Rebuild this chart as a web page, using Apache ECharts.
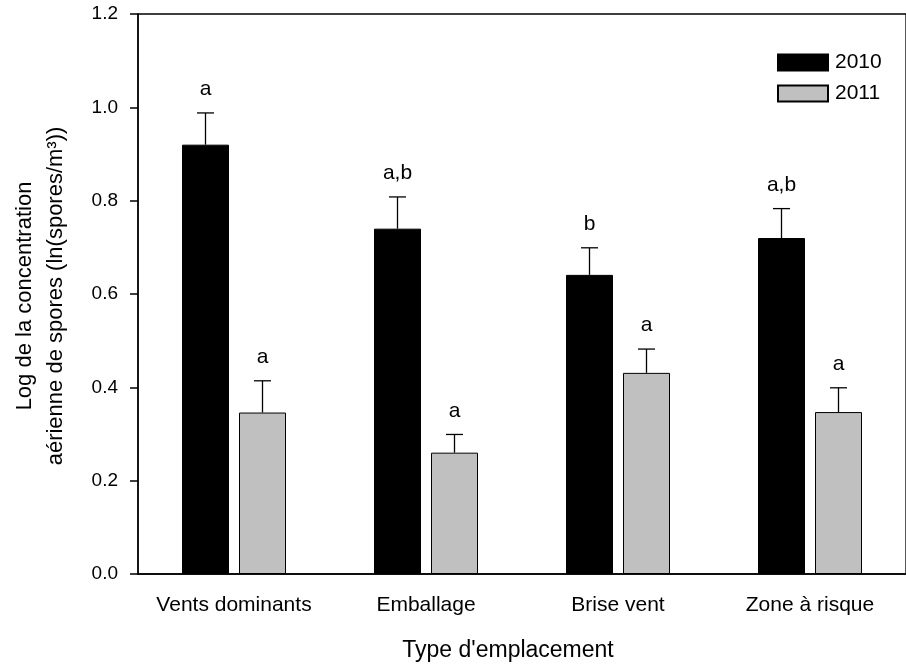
<!DOCTYPE html>
<html>
<head>
<meta charset="utf-8">
<script src="https://cdn.jsdelivr.net/npm/echarts@6/dist/echarts.min.js"></script>
<style>
  html, body { margin: 0; padding: 0; background: #fff; }
  #chart { width: 906px; height: 667px; }
</style>
</head>
<body>
<div id="chart"></div>
<script>
const categories = ['Vents dominants', 'Emballage', 'Brise vent', 'Zone à risque'];
const yTicks = [0, 0.2, 0.4, 0.6, 0.8, 1.0, 1.2];

const mean2010 = [0.92, 0.74, 0.641, 0.72];
const err2010 = [0.068, 0.068, 0.058, 0.063];
const letters2010 = ['a', 'a,b', 'b', 'a,b'];

const mean2011 = [0.346, 0.26, 0.431, 0.347];
const err2011 = [0.068, 0.039, 0.051, 0.052];
const letters2011 = ['a', 'a', 'a', 'a'];

const FONT = "'Liberation Sans', Arial, sans-serif";
const BAR_W = 47;
const BAR_GAP = 10;

const chart = echarts.init(document.getElementById('chart'), null, { renderer: 'canvas' });

// error bar (upper only) + significance letter
const errSeries = (name, means, errs, letters, side) => ({
    name: name + '-err',
    type: 'custom',
    z: 5,
    data: means.map((m, i) => [i, m, errs[i]]),
    renderItem: (params, api) => {
        const idx = api.value(0);
        const top = api.coord([idx, api.value(1) + api.value(2)]);
        const base = api.coord([idx, api.value(1)]);
        const x = base[0] + side * (BAR_W + BAR_GAP) / 2;
        return {
            type: 'group',
            children: [
                { type: 'line', shape: { x1: x, y1: base[1], x2: x, y2: top[1] }, style: { stroke: '#000', lineWidth: 1.3 } },
                { type: 'line', shape: { x1: x - 8.5, y1: top[1], x2: x + 8.5, y2: top[1] }, style: { stroke: '#000', lineWidth: 1.3 } },
                {
                    type: 'text',
                    x: x, y: top[1] - 13,
                    style: {
                        text: letters[idx], fill: '#000', font: '21px ' + FONT,
                        align: 'center', verticalAlign: 'bottom'
                    }
                }
            ]
        };
    }
});

const option = {
    animation: false,
    backgroundColor: '#fff',
    textStyle: { fontFamily: FONT },
    grid: {
        left: 138, top: 14, width: 777, height: 560,
        show: true, borderColor: '#000', borderWidth: 1.3, backgroundColor: 'transparent'
    },
    legend: {
        data: ['2010', '2011'],
        orient: 'vertical',
        left: 772, top: 47,
        icon: 'rect',
        itemWidth: 50, itemHeight: 16, itemGap: 10,
        textStyle: { fontSize: 21, color: '#000', fontFamily: FONT, padding: [0, 0, 0, 2] }
    },
    xAxis: {
        type: 'category',
        data: categories,
        axisLine: { lineStyle: { color: '#000', width: 1.5 } },
        axisTick: { alignWithLabel: true, interval: 0, length: 7, lineStyle: { color: '#000', width: 1.5 } },
        axisLabel: { color: '#000', fontSize: 21, margin: 21, fontFamily: FONT, interval: 0, hideOverlap: false }
    },
    yAxis: {
        type: 'value',
        min: yTicks[0], max: yTicks[yTicks.length - 1], interval: 0.2,
        axisLine: { show: true, lineStyle: { color: '#000', width: 1.5 } },
        axisTick: { show: true, length: 8, lineStyle: { color: '#000', width: 1.5 } },
        splitLine: { show: false },
        axisLabel: { color: '#000', fontSize: 19, margin: 20, fontFamily: FONT, formatter: v => v.toFixed(1) }
    },
    graphic: [
        {
            type: 'text', x: 508, y: 651,
            style: { text: "Type d'emplacement", font: '23px ' + FONT, fill: '#000', align: 'center', verticalAlign: 'middle' }
        },
        {
            type: 'text', x: 40, y: 296, rotation: Math.PI / 2,
            style: {
                text: 'Log de la concentration\naérienne de spores (ln(spores/m³))',
                font: '22px ' + FONT, fill: '#000', align: 'center', verticalAlign: 'middle', lineHeight: 31
            }
        }
    ],
    series: [
        {
            name: '2010', type: 'bar', data: mean2010,
            barWidth: BAR_W, barGap: (BAR_GAP / BAR_W * 100) + '%',
            itemStyle: { color: '#000', borderColor: '#000', borderWidth: 1 }
        },
        {
            name: '2011', type: 'bar', data: mean2011,
            barWidth: BAR_W,
            itemStyle: { color: '#c0c0c0', borderColor: '#000', borderWidth: 1 }
        },
        errSeries('2010', mean2010, err2010, letters2010, -1),
        errSeries('2011', mean2011, err2011, letters2011, 1)
    ]
};

chart.setOption(option);
</script>
</body>
</html>
